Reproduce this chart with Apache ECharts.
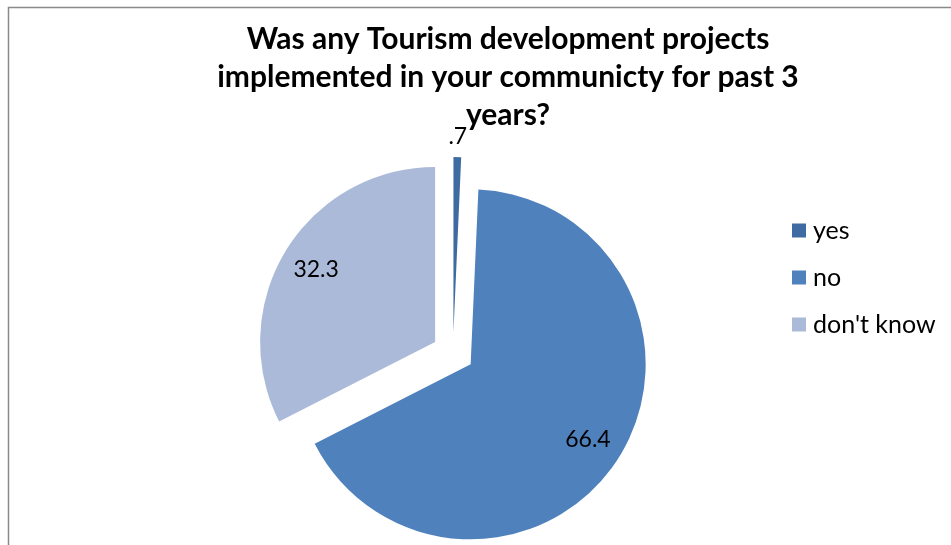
<!DOCTYPE html>
<html>
<head>
<meta charset="utf-8">
<title>Tourism development projects</title>
<script src="https://cdn.jsdelivr.net/npm/echarts@6/dist/echarts.min.js"></script>
<style>
  html, body { margin: 0; padding: 0; background: #ffffff; }
  #chart { width: 951px; height: 545px; }
</style>
</head>
<body>
<div id="chart"></div>
<script>
// Survey answers (percent of respondents)
const categories = ['yes', 'no', "don't know"];
const shares = [0.7, 66.4, 32.3];
const labelTexts = ['.7', '66.4', '32.3'];
const sliceColors = ['#3E6BA1', '#4F81BD', '#AABAD8'];

const titleText = 'Was any Tourism development projects\nimplemented in your communicty for past 3\nyears?';

const FONT = 'Lato, "Liberation Sans", sans-serif';
const RADIUS = 175;
const EXPLODE = 21;

// Labels sit along each slice's mid-angle: well inside for big slices,
// just beyond the rim for tiny ones. Inside labels start at half radius,
// so the shift is whatever is left to reach the wanted distance.
const total = shares.reduce((a, b) => a + b, 0);
let cum = 0;
const labelShift = shares.map((v) => {
  const mid = (cum + v / 2) / total * 2 * Math.PI;
  cum += v;
  const frac = v / total < 0.05 ? 1.1 : 0.78;
  const extra = (frac - 0.5) * RADIUS;
  return { dx: extra * Math.sin(mid), dy: -extra * Math.cos(mid) };
});

const pieData = shares.map((v, i) => ({
  name: categories[i],
  value: v,
  selected: true,
  itemStyle: { color: sliceColors[i] },
  label: { formatter: labelTexts[i] }
}));

const chart = echarts.init(document.getElementById('chart'), null, { renderer: 'canvas' });

chart.setOption({
  animation: false,
  backgroundColor: '#ffffff',
  title: {
    text: titleText,
    left: 503,
    top: 15,
    textAlign: 'center',
    textStyle: {
      fontFamily: FONT,
      fontWeight: 'bold',
      fontSize: 30,
      lineHeight: 38,
      color: '#000000'
    }
  },
  legend: {
    orient: 'vertical',
    left: 792,
    top: 218,
    padding: 0,
    icon: 'rect',
    itemWidth: 14,
    itemHeight: 14,
    itemGap: 22,
    selectedMode: false,
    data: categories,
    textStyle: {
      fontFamily: FONT,
      fontSize: 25,
      lineHeight: 25,
      color: '#000000',
      padding: [0, 0, 0, 2]
    }
  },
  graphic: [{
    type: 'rect',
    silent: true,
    shape: { x: 8.5, y: 7.5, width: 1200, height: 800 },
    style: { fill: 'none', stroke: '#8A8A8A', lineWidth: 1.5 }
  }],
  series: [{
    type: 'pie',
    center: [453, 353],
    radius: RADIUS,
    startAngle: 90,
    clockwise: true,
    selectedMode: 'multiple',
    selectedOffset: EXPLODE,
    avoidLabelOverlap: false,
    itemStyle: { borderWidth: 0 },
    label: {
      show: true,
      position: 'inside',
      rotate: 0,
      fontFamily: FONT,
      fontSize: 23,
      color: '#000000'
    },
    labelLine: { show: false },
    labelLayout: (params) => labelShift[params.dataIndex],
    emphasis: { disabled: true },
    select: { itemStyle: { borderWidth: 0 } },
    data: pieData
  }]
});
</script>
</body>
</html>
